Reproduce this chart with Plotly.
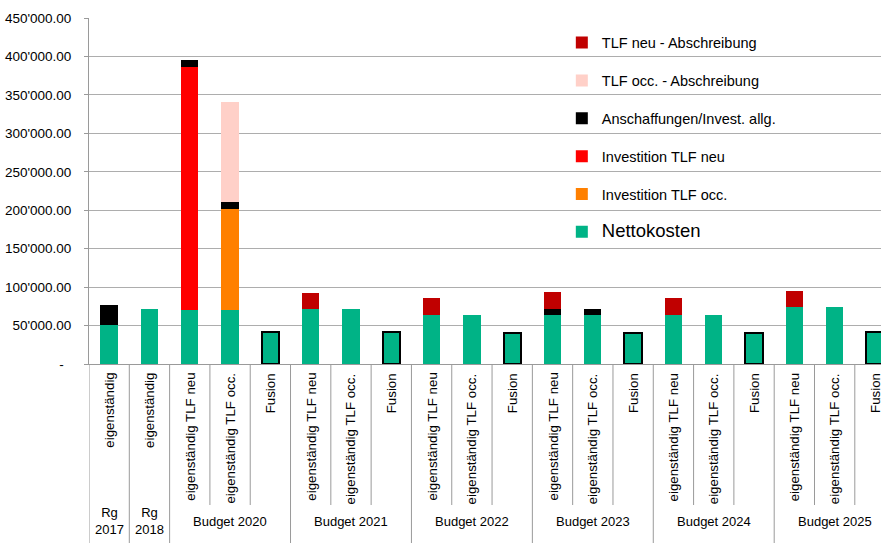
import plotly.graph_objects as go

# ---- data ----
categories = [
    "eigenständig", "eigenständig",
    "eigenständig TLF neu", "eigenständig TLF occ.", "Fusion",
    "eigenständig TLF neu", "eigenständig TLF occ.", "Fusion",
    "eigenständig TLF neu", "eigenständig TLF occ.", "Fusion",
    "eigenständig TLF neu", "eigenständig TLF occ.", "Fusion",
    "eigenständig TLF neu", "eigenständig TLF occ.", "Fusion",
    "eigenständig TLF neu", "eigenständig TLF occ.", "Fusion",
]
group_labels = ["Rg<br>2017", "Rg<br>2018", "Budget 2020", "Budget 2021",
                "Budget 2022", "Budget 2023", "Budget 2024", "Budget 2025"]
group_sizes = [1, 1, 3, 3, 3, 3, 3, 3]

nettokosten = [51000, 71500, 70500, 70500, 42000, 71500, 71500, 42000,
               63700, 63700, 40300, 63700, 63700, 40300, 63700, 63700, 40700,
               74100, 74100, 41600]
invest_occ = [0, 0, 0, 131000, 0, 0, 0, 0, 0, 0, 0, 0, 0, 0, 0, 0, 0, 0, 0, 0]
invest_neu = [0, 0, 315500, 0, 0, 0, 0, 0, 0, 0, 0, 0, 0, 0, 0, 0, 0, 0, 0, 0]
anschaffungen = [26000, 0, 10000, 9500, 0, 0, 0, 0, 0, 0, 0, 8200, 8200, 0,
                 0, 0, 0, 0, 0, 0]
occ_abschreibung = [0, 0, 0, 130000, 0, 0, 0, 0, 0, 0, 0, 0, 0, 0, 0, 0, 0,
                    0, 0, 0]
neu_abschreibung = [0, 0, 0, 0, 0, 20800, 0, 0, 21700, 0, 0, 21300, 0, 0,
                    21700, 0, 0, 21200, 0, 0]

y_tickvals = [0, 50000, 100000, 150000, 200000, 250000, 300000, 350000,
              400000, 450000]
y_ticktext = ["-\u00a0\u00a0", "50'000.00", "100'000.00", "150'000.00",
              "200'000.00", "250'000.00", "300'000.00", "350'000.00",
              "400'000.00", "450'000.00"]

series = [
    ("<span style='font-size:18.5px'>Nettokosten</span>", nettokosten, "#00B386"),
    ("Investition TLF occ.", invest_occ, "#FF8000"),
    ("Investition TLF neu", invest_neu, "#FF0000"),
    ("Anschaffungen/Invest. allg.", anschaffungen, "#000000"),
    ("TLF occ. - Abschreibung", occ_abschreibung, "#FFD0C8"),
    ("TLF neu - Abschreibung", neu_abschreibung, "#C00000"),
]

x = list(range(len(categories)))
FONT = "Liberation Sans, Arial, sans-serif"

fig = go.Figure()
for i, (name, vals, color) in enumerate(series):
    if i == 0:
        lw = [2 if c == "Fusion" else 0 for c in categories]
    else:
        lw = 0
    fig.add_trace(go.Bar(
        x=x, y=vals, name=name, legendgroup=str(i),
        legendrank=len(series) - i,
        marker=dict(color=color, line=dict(color="#000000", width=lw)),
    ))

# category labels and separators
shapes = []
annotations = []
plot_h = 346.0
for i, c in enumerate(categories):
    annotations.append(dict(
        x=i, xref="x", y=-7 / plot_h, yref="paper", text=c, textangle=-90,
        showarrow=False, xanchor="center", yanchor="top",
        font=dict(family=FONT, size=13.3, color="#000000"),
    ))

start = 0
group_bounds = [-0.5]
for lbl, n in zip(group_labels, group_sizes):
    center = start + (n - 1) / 2
    annotations.append(dict(
        x=center, xref="x", y=-157 / plot_h, yref="paper", text=lbl,
        showarrow=False, xanchor="center", yanchor="middle",
        font=dict(family=FONT, size=13, color="#000000"),
    ))
    start += n
    group_bounds.append(start - 0.5)

for k in range(len(categories)):
    b = k - 0.5
    if b in group_bounds:
        y1 = -179 / plot_h
    else:
        y1 = -141 / plot_h
    shapes.append(dict(type="line", xref="x", yref="paper", x0=b, x1=b,
                       y0=0, y1=y1, line=dict(color="#9a9a9a", width=1)))

fig.update_layout(
    width=881, height=543,
    margin=dict(l=89, r=0, t=18, b=179),
    paper_bgcolor="white", plot_bgcolor="white",
    barmode="stack", bargap=0.57,
    font=dict(family=FONT, size=13.3, color="#000000"),
    showlegend=True,
    legend=dict(
        x=0.597, xanchor="left", y=0.975, yanchor="top",
        traceorder="grouped", tracegroupgap=16,
        bgcolor="rgba(0,0,0,0)", font=dict(family=FONT, size=14.5),
    ),
    xaxis=dict(range=[-0.5, 19.15], showticklabels=False, showgrid=False,
               zeroline=False, showline=True, linecolor="#9a9a9a",
               ticks="", fixedrange=True, automargin=False),
    yaxis=dict(range=[0, 450000], tickvals=y_tickvals, ticktext=y_ticktext,
               showgrid=True, gridcolor="#adadad", gridwidth=1,
               zeroline=False, showline=True, linecolor="#9a9a9a",
               ticks="outside", ticklen=4, tickcolor="#9a9a9a",
               ticklabelstandoff=10, automargin=False,
               tickfont=dict(family=FONT, size=13.5, color="#000000")),
    shapes=shapes, annotations=annotations,
)

fig.write_html(
    "out.html",
    config={"displayModeBar": False},
    post_script="document.body.style.margin='0';document.body.style.overflow='hidden';",
)
